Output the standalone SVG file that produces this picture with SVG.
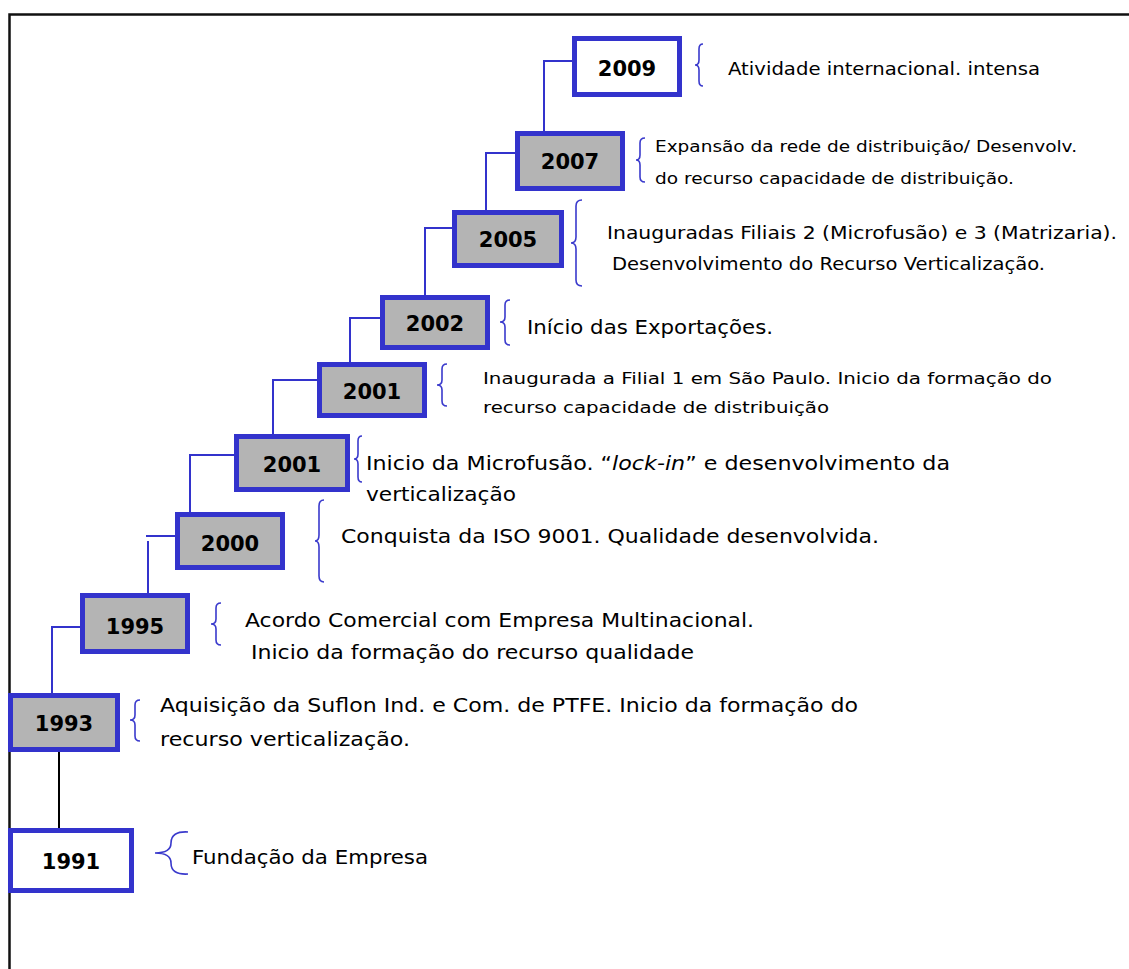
<svg xmlns="http://www.w3.org/2000/svg" width="1129" height="969" viewBox="0 0 1129 969">
<style>
.frame{fill:none;stroke:#111;stroke-width:2.5}
.box{stroke:#3333cc;stroke-width:5}
.g{fill:#b4b4b4}
.w{fill:#ffffff}
.yr{font-family:"Comic Sans MS","DejaVu Sans",sans-serif;font-weight:bold;font-size:21px;fill:#000;text-anchor:middle}
.tx{font-family:"Comic Sans MS","DejaVu Sans",sans-serif;fill:#000}
.conn{fill:none;stroke:#3333cc;stroke-width:2}
.blk{fill:none;stroke:#000;stroke-width:2}
.br{fill:none;stroke:#3a3acc;stroke-width:1.6}
</style>
<rect width="1129" height="969" fill="#fff"/>
<path class="frame" d="M9.5 969 V14.5 H1129"/>
<g id="connectors">
<path class="conn" d="M572 61 H544 V131"/>
<path class="conn" d="M515 153 H486 V210"/>
<path class="conn" d="M452 228 H425 V296"/>
<path class="conn" d="M380 318 H350 V363"/>
<path class="conn" d="M317 380 H273 V434"/>
<path class="conn" d="M234 455 H190 V513"/>
<path class="conn" d="M175 536 H146 M148 541 V594"/>
<path class="conn" d="M80 627 H52 V694"/>
<path class="blk" d="M59 752 V829"/>
</g>
<g id="n2009"><rect class="box w" x="574.5" y="38.5" width="105" height="56"/><text class="yr" x="627" y="76">2009</text>
<path class="br" d="M703 44 Q699 44 699 49 V60 Q699 65 695 65 Q699 65 699 70 V81 Q699 86 703 86"/>
<text class="tx" font-size="18" x="728" y="75" textLength="312" lengthAdjust="spacingAndGlyphs">Atividade internacional. intensa</text></g>
<g id="n2007"><rect class="box g" x="517.5" y="133.5" width="105" height="55"/><text class="yr" x="570" y="169">2007</text>
<path class="br" d="M645 138 Q640 138 640 143 V155 Q640 160 636 160 Q640 160 640 165 V177 Q640 182 645 182"/>
<text class="tx" font-size="16" x="655" y="152" textLength="422" lengthAdjust="spacingAndGlyphs">Expansão da rede de distribuição/ Desenvolv.</text>
<text class="tx" font-size="16" x="655" y="184" textLength="359" lengthAdjust="spacingAndGlyphs">do recurso capacidade de distribuição.</text></g>
<g id="n2005"><rect class="box g" x="454.5" y="212.5" width="107" height="53"/><text class="yr" x="508" y="247">2005</text>
<path class="br" d="M582 200 Q576 200 576 206 V237 Q576 243 571 243 Q576 243 576 249 V280 Q576 286 582 286"/>
<text class="tx" font-size="17" x="607" y="239" textLength="510" lengthAdjust="spacingAndGlyphs">Inauguradas Filiais 2 (Microfusão) e 3 (Matrizaria).</text>
<text class="tx" font-size="17" x="612" y="270" textLength="433" lengthAdjust="spacingAndGlyphs">Desenvolvimento do Recurso Verticalização.</text></g>
<g id="n2002"><rect class="box g" x="382.5" y="297.5" width="105" height="50"/><text class="yr" x="435" y="331">2002</text>
<path class="br" d="M510 300 Q505 300 505 305 V317 Q505 322 500 322 Q505 322 505 327 V340 Q505 345 510 345"/>
<text class="tx" font-size="20" x="527" y="334" textLength="246" lengthAdjust="spacingAndGlyphs">Início das Exportações.</text></g>
<g id="n2001a"><rect class="box g" x="319.5" y="364.5" width="105" height="51"/><text class="yr" x="372" y="399">2001</text>
<path class="br" d="M447 364 Q442 364 442 369 V380 Q442 385 437 385 Q442 385 442 390 V401 Q442 406 447 406"/>
<text class="tx" font-size="16" x="483" y="384" textLength="569" lengthAdjust="spacingAndGlyphs">Inaugurada a Filial 1 em São Paulo. Inicio da formação do</text>
<text class="tx" font-size="16" x="483" y="413" textLength="346" lengthAdjust="spacingAndGlyphs">recurso capacidade de distribuição</text></g>
<g id="n2001b"><rect class="box g" x="236.5" y="436.5" width="111" height="53"/><text class="yr" x="292" y="472">2001</text>
<path class="br" d="M362 436 Q358 436 358 441 V454 Q358 459 354 459 Q358 459 358 464 V477 Q358 482 362 482"/>
<text class="tx" font-size="20" x="366" y="470" textLength="584" lengthAdjust="spacingAndGlyphs">Inicio da Microfusão. “<tspan font-style="italic">lock-in</tspan>” e desenvolvimento da</text>
<text class="tx" font-size="20" x="366" y="501" textLength="150" lengthAdjust="spacingAndGlyphs">verticalização</text></g>
<g id="n2000"><rect class="box g" x="177.5" y="514.5" width="105" height="53"/><text class="yr" x="230" y="551">2000</text>
<path class="br" d="M324 500 Q319 500 319 506 V535 Q319 541 315 541 Q319 541 319 547 V576 Q319 582 324 582"/>
<text class="tx" font-size="20" x="341" y="543" textLength="538" lengthAdjust="spacingAndGlyphs">Conquista da ISO 9001. Qualidade desenvolvida.</text></g>
<g id="n1995"><rect class="box g" x="82.5" y="595.5" width="105" height="56"/><text class="yr" x="135" y="634">1995</text>
<path class="br" d="M221 603 Q216 603 216 608 V619 Q216 624 211 624 Q216 624 216 629 V640 Q216 645 221 645"/>
<text class="tx" font-size="20" x="245" y="627" textLength="509" lengthAdjust="spacingAndGlyphs">Acordo Comercial com Empresa Multinacional.</text>
<text class="tx" font-size="20" x="251" y="659" textLength="443" lengthAdjust="spacingAndGlyphs">Inicio da formação do recurso qualidade</text></g>
<g id="n1993"><rect class="box g" x="10.5" y="695.5" width="107" height="54"/><text class="yr" x="64" y="731">1993</text>
<path class="br" d="M140 700 Q135 700 135 705 V715 Q135 720 130 720 Q135 720 135 725 V736 Q135 741 140 741"/>
<text class="tx" font-size="19" x="160" y="712" textLength="698" lengthAdjust="spacingAndGlyphs">Aquisição da Suflon Ind. e Com. de PTFE. Inicio da formação do</text>
<text class="tx" font-size="19" x="160" y="746" textLength="250" lengthAdjust="spacingAndGlyphs">recurso verticalização.</text></g>
<g id="n1991"><rect class="box w" x="10.5" y="830.5" width="121" height="60"/><text class="yr" x="71" y="869">1991</text>
<path class="br" d="M188 832 Q171 831 171 843 Q171 853 155 853 Q171 853 171 863 Q171 875 188 874"/>
<text class="tx" font-size="19" x="192" y="864" textLength="236" lengthAdjust="spacingAndGlyphs">Fundação da Empresa</text></g>
</svg>
